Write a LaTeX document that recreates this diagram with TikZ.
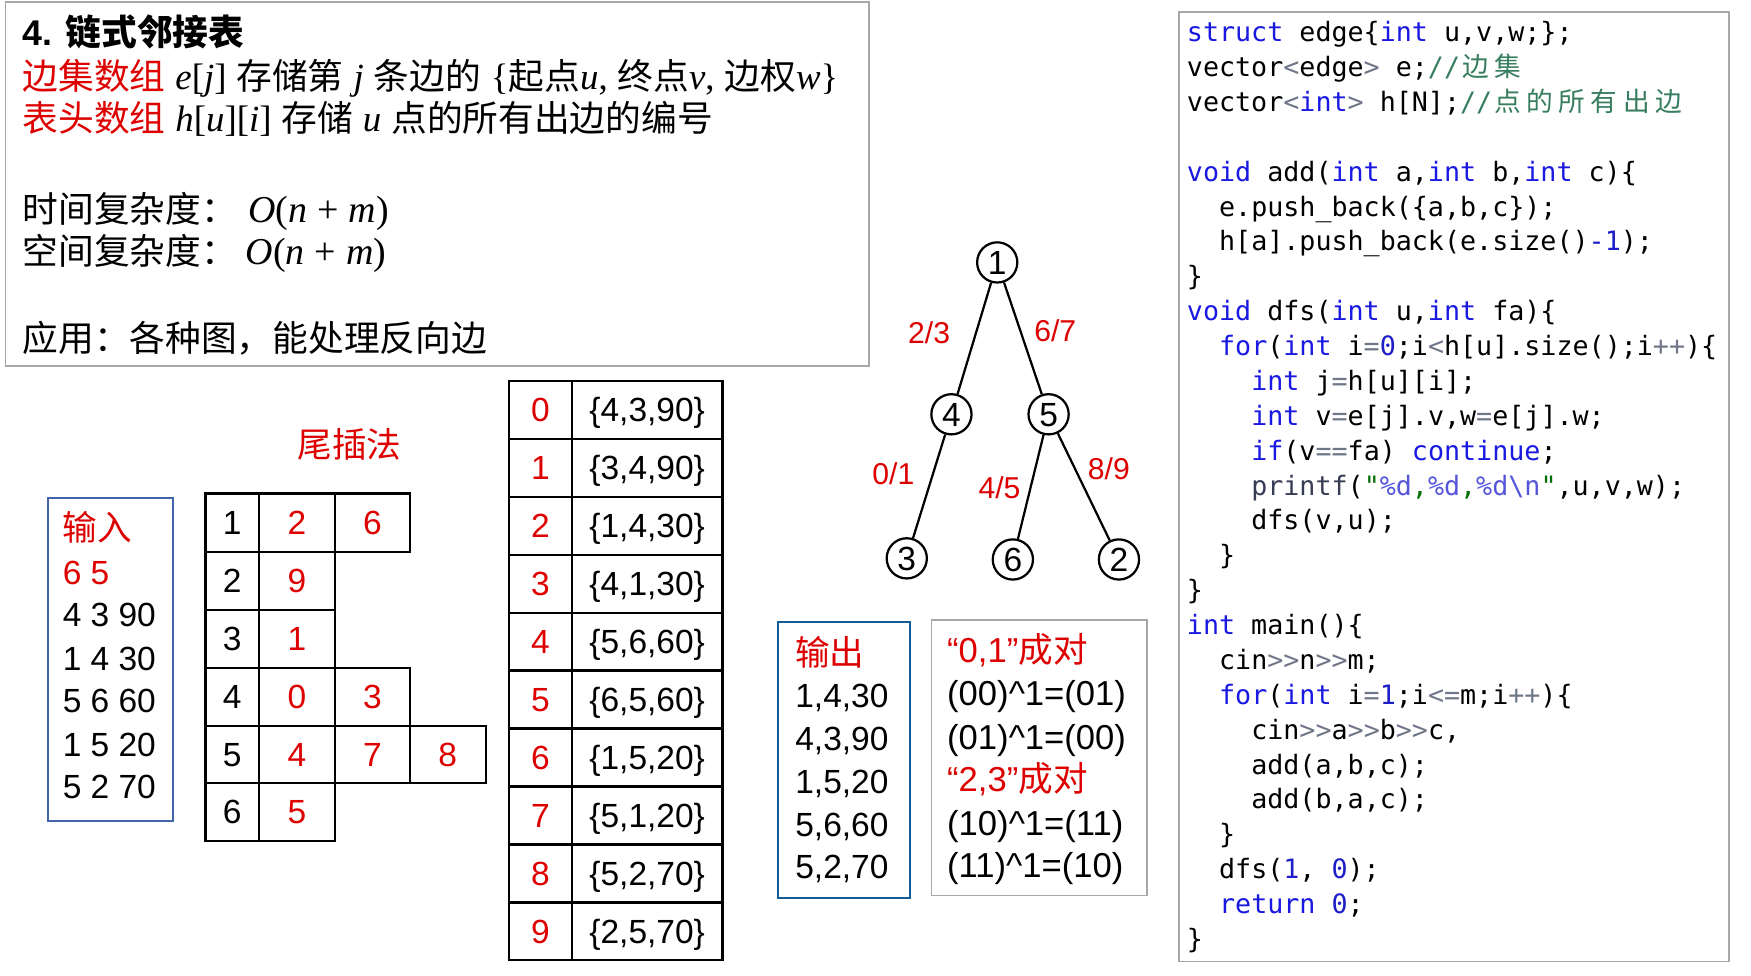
\documentclass[tikz,border=0pt]{standalone}
\usepackage{fontspec}
\setmainfont{Liberation Sans}
\setmonofont{DejaVu Sans Mono}
\newfontfamily\cjk{Noto Sans CJK SC}
\newfontfamily\srf{Liberation Serif}
\definecolor{myred}{RGB}{222,0,0}
\definecolor{boxgray}{RGB}{168,168,168}
\definecolor{inblue}{RGB}{65,100,170}
\definecolor{outblue}{RGB}{20,90,150}
\definecolor{kw}{RGB}{25,25,225}
\definecolor{opc}{RGB}{110,118,135}
\definecolor{numc}{RGB}{30,30,200}
\definecolor{cmc}{RGB}{55,125,95}
\definecolor{strc}{RGB}{85,85,220}
\definecolor{strg}{RGB}{0,110,0}
\definecolor{pfc}{RGB}{55,60,85}
\newcommand\fs[1]{\fontsize{#1}{#1}\selectfont}
\newcommand\mi[1]{{\srf\itshape #1}}
\newcommand\mr[1]{{\srf #1}}
\newcommand\zh[1]{{\cjk #1}}
\newcommand\Kw[1]{\textcolor{kw}{#1}}
\newcommand\Op[1]{\textcolor{opc}{#1}}
\newcommand\Nm[1]{\textcolor{numc}{#1}}
\newcommand\Cm[1]{\textcolor{cmc}{#1}}
\newcommand\St[1]{\textcolor{strc}{#1}}
\newcommand\Gc[1]{\textcolor{strg}{#1}}
\newcommand\Pf[1]{\textcolor{pfc}{#1}}
\newcommand\zc[1]{\makebox[1.2em][c]{\cjk #1}}
\newcommand\onm{{\fs{34}\mi{O}\mr{(}\mi{n}\hspace{9pt}\mr{+}\hspace{9pt}\mi{m}\mr{)}}}
\tikzset{
  tl/.style={anchor=base west, inner sep=0pt, font=\fs{32}},
  dg/.style={anchor=base west, inner sep=0pt, font=\fs{30}},
  pr/.style={anchor=base west, inner sep=0pt, font=\fs{31}},
  cell/.style={inner sep=0pt, font=\fs{30}, text height=21.5pt, text depth=0pt},
  grayb/.style={draw=boxgray, line width=1.5},
  tbl/.style={draw=black, line width=2},
  tn/.style={circle, draw, line width=2, minimum size=36, inner sep=0pt, font=\fs{30}, text height=21.5pt, text depth=0pt},
  lab/.style={inner sep=0pt, font=\fs{27}, text=myred, text height=19.3pt, text depth=0pt},
  code/.style={anchor=base west, inner sep=0pt, font=\ttfamily\fs{23.9}},
  edge/.style={line width=2},
}
\begin{document}
\begin{tikzpicture}[x=1pt,y=-1pt]
\fill[white] (0,0) rectangle (1568,874);
\useasboundingbox (0,0) rectangle (1568,874);

% ---------- top-left box ----------
\draw[grayb] (5,2) rectangle (778,328);
\node[tl] (t1) at (20,41) {\bfseries 4. {\cjk\bfseries 链式邻接表}};
\node[tl] (t2) at (20,80) {\zh{\color{myred}边集数组} {\fs{33}\mi{e}\mr{[}\mi{j}\mr{]}} \zh{存储第} {\fs{33}\mi{j}} \zh{条边的} {\fs{33}\mr{\{}}\zh{起点}{\fs{33}\mi{u}\mr{,}} \zh{终点}{\fs{33}\mi{v}\mr{,}} \zh{边权}{\fs{33}\mi{w}\mr{\}}}};
\node[tl] (t3) at (20,118) {\zh{\color{myred}表头数组} {\fs{33}\mi{h}\mr{[}\mi{u}\mr{][}\mi{i}\mr{]}} \zh{存储} {\fs{33}\mi{u}} \zh{点的所有出边的编号}};
\node[tl] (t4) at (20,199) {\zh{时间复杂度：}\hspace{10pt}\onm};
\node[tl] (t5) at (20,237) {\zh{空间复杂度：}\hspace{8pt}\onm};
\node[tl] (t6) at (20,315) {\zh{应用：各种图，能处理反向边}};

% ---------- input box ----------
\draw[draw=inblue, line width=2] (43,446) rectangle (155,735);
\node[tl, font=\fs{31}, text=myred] (in0) at (56,484) {\zh{输入}};
\node[dg, text=myred] (in1) at (56,523) {6 5};
\node[dg] (in2) at (56,561) {4 3 90};
\node[dg] (in3) at (56,600) {1 4 30};
\node[dg] (in4) at (56,638) {5 6 60};
\node[dg] (in5) at (56,677) {1 5 20};
\node[dg] (in6) at (56,715) {5 2 70};

% ---------- tail insertion grid ----------
\node[font=\fs{31}, text=myred, inner sep=0pt] (wcf) at (313,398) {\zh{尾插法}};
\foreach \r/\ya/\yb/\n in {1/442/494/3, 2/494/546/2, 3/546/598/2, 4/598/650/3, 5/650/701/4, 6/701/753/2}{
  \draw[tbl] (184,\ya) rectangle (232,\yb);
  \draw[tbl] (232,\ya) rectangle (300,\yb);
  \ifnum\n>2 \draw[tbl] (300,\ya) rectangle (367,\yb); \fi
  \ifnum\n>3 \draw[tbl] (367,\ya) rectangle (435,\yb); \fi
}
\foreach \r/\y in {1/468,2/520,3/572,4/624,5/675.5,6/727}{
  \node[cell] (g\r) at (208,\y) {\r};
}
\node[cell, text=myred] (g12) at (266,468) {2};
\node[cell, text=myred] (g13) at (333.5,468) {6};
\node[cell, text=myred] (g22) at (266,520) {9};
\node[cell, text=myred] (g32) at (266,572) {1};
\node[cell, text=myred] (g42) at (266,624) {0};
\node[cell, text=myred] (g43) at (333.5,624) {3};
\node[cell, text=myred] (g52) at (266,675.5) {4};
\node[cell, text=myred] (g53) at (333.5,675.5) {7};
\node[cell, text=myred] (g54) at (401,675.5) {8};
\node[cell, text=myred] (g62) at (266,727) {5};

% ---------- edge table ----------
\draw[tbl] (456,341) rectangle (647,860);
\draw[tbl] (512,341) -- (512,860);
\foreach \k in {1,...,9}{ \draw[tbl] (456,341+\k*51.9) -- (647,341+\k*51.9); }
\foreach \k/\e in {0/{4,3,90},1/{3,4,90},2/{1,4,30},3/{4,1,30},4/{5,6,60},5/{6,5,60},6/{1,5,20},7/{5,1,20},8/{5,2,70},9/{2,5,70}}{
  \node[cell, text=myred] (ei\k) at (484,367+\k*51.9) {\k};
  \node[cell] (ec\k) at (579.5,367+\k*51.9) {\{\e\}};
}

% ---------- tree ----------
\node[tn] (n1) at (893,235) {1};
\node[tn] (n4) at (852,371) {4};
\node[tn] (n5) at (939,371) {5};
\node[tn] (n3) at (812,500) {3};
\node[tn] (n6) at (907,501) {6};
\node[tn] (n2) at (1002,501) {2};
\draw[edge] (n1) -- (n4);
\draw[edge] (n1) -- (n5);
\draw[edge] (n4) -- (n3);
\draw[edge] (n5) -- (n6);
\draw[edge] (n5) -- (n2);
\node[lab] (l14) at (832,298) {2/3};
\node[lab] (l15) at (945,296) {6/7};
\node[lab] (l43) at (800,424) {0/1};
\node[lab] (l56) at (895,437) {4/5};
\node[lab] (l52) at (993,420) {8/9};

% ---------- output box ----------
\draw[draw=outblue, line width=2] (697,557) rectangle (815,804);
\node[tl, font=\fs{31}, text=myred] (o0) at (712,596) {\zh{输出}};
\node[dg] (o1) at (712,634) {1,4,30};
\node[dg] (o2) at (712,672) {4,3,90};
\node[dg] (o3) at (712,711) {1,5,20};
\node[dg] (o4) at (712,749) {5,6,60};
\node[dg] (o5) at (712,787) {5,2,70};

% ---------- xor pairs box ----------
\draw[grayb] (834,555) rectangle (1027,802);
\node[pr, text=myred] (p0) at (848,593) {“0,1”\zh{成对}};
\node[pr] (p1) at (848,632) {(00)\textasciicircum 1=(01)};
\node[pr] (p2) at (848,671) {(01)\textasciicircum 1=(00)};
\node[pr, text=myred] (p3) at (848,709) {“2,3”\zh{成对}};
\node[pr] (p4) at (848,748) {(10)\textasciicircum 1=(11)};
\node[pr] (p5) at (848,786) {(11)\textasciicircum 1=(10)};

% ---------- code box ----------
\draw[grayb] (1056,10.5) rectangle (1548,861);
\def\cx{1062.7}
\def\cw{14.4}
\node[code] (c1) at (\cx,37.3) {\Kw{struct} edge\{\Kw{int} u,v,w;\};};
\node[code] (c2) at (\cx,68.53) {vector\Op{<}edge\Op{>} e;\Cm{//\zc{边}\zc{集}}};
\node[code] (c3) at (\cx,99.76) {vector\Op{<}\Kw{int}\Op{>} h[N];\Cm{//\zc{点}\zc{的}\zc{所}\zc{有}\zc{出}\zc{边}}};
\node[code] (c5) at (\cx,162.22) {\Kw{void} add(\Kw{int} a,\Kw{int} b,\Kw{int} c)\{};
\node[code] (c6) at (\cx+2*\cw,193.45) {e.push\_back(\{a,b,c\});};
\node[code] (c7) at (\cx+2*\cw,224.68) {h[a].push\_back(e.size()\Nm{-1});};
\node[code] (c8) at (\cx,255.91) {\}};
\node[code] (c9) at (\cx,287.14) {\Kw{void} dfs(\Kw{int} u,\Kw{int} fa)\{};
\node[code] (c10) at (\cx+2*\cw,318.37) {\Kw{for}(\Kw{int} i\Op{=}\Nm{0};i\Op{<}h[u].size();i\Op{++})\{};
\node[code] (c11) at (\cx+4*\cw,349.6) {\Kw{int} j\Op{=}h[u][i];};
\node[code] (c12) at (\cx+4*\cw,380.83) {\Kw{int} v\Op{=}e[j].v,w\Op{=}e[j].w;};
\node[code] (c13) at (\cx+4*\cw,412.06) {\Kw{if}(v\Op{==}fa) \Kw{continue};};
\node[code] (c14) at (\cx+4*\cw,443.29) {\Pf{printf}(\Gc{"}\St{\%d}\Gc{,}\St{\%d}\Gc{,}\St{\%d\textbackslash n}\Gc{"},u,v,w);};
\node[code] (c15) at (\cx+4*\cw,474.52) {dfs(v,u);};
\node[code] (c16) at (\cx+2*\cw,505.75) {\}};
\node[code] (c17) at (\cx,536.98) {\}};
\node[code] (c18) at (\cx,568.21) {\Kw{int} main()\{};
\node[code] (c19) at (\cx+2*\cw,599.44) {cin\Op{>>}n\Op{>>}m;};
\node[code] (c20) at (\cx+2*\cw,630.67) {\Kw{for}(\Kw{int} i\Op{=}\Nm{1};i\Op{<=}m;i\Op{++})\{};
\node[code] (c21) at (\cx+4*\cw,661.9) {cin\Op{>>}a\Op{>>}b\Op{>>}c,};
\node[code] (c22) at (\cx+4*\cw,693.13) {add(a,b,c);};
\node[code] (c23) at (\cx+4*\cw,724.36) {add(b,a,c);};
\node[code] (c24) at (\cx+2*\cw,755.59) {\}};
\node[code] (c25) at (\cx+2*\cw,786.82) {dfs(\Nm{1}, \Nm{0});};
\node[code] (c26) at (\cx+2*\cw,818.05) {\Kw{return} \Nm{0};};
\node[code] (c27) at (\cx,849.28) {\}};
\end{tikzpicture}
\end{document}
